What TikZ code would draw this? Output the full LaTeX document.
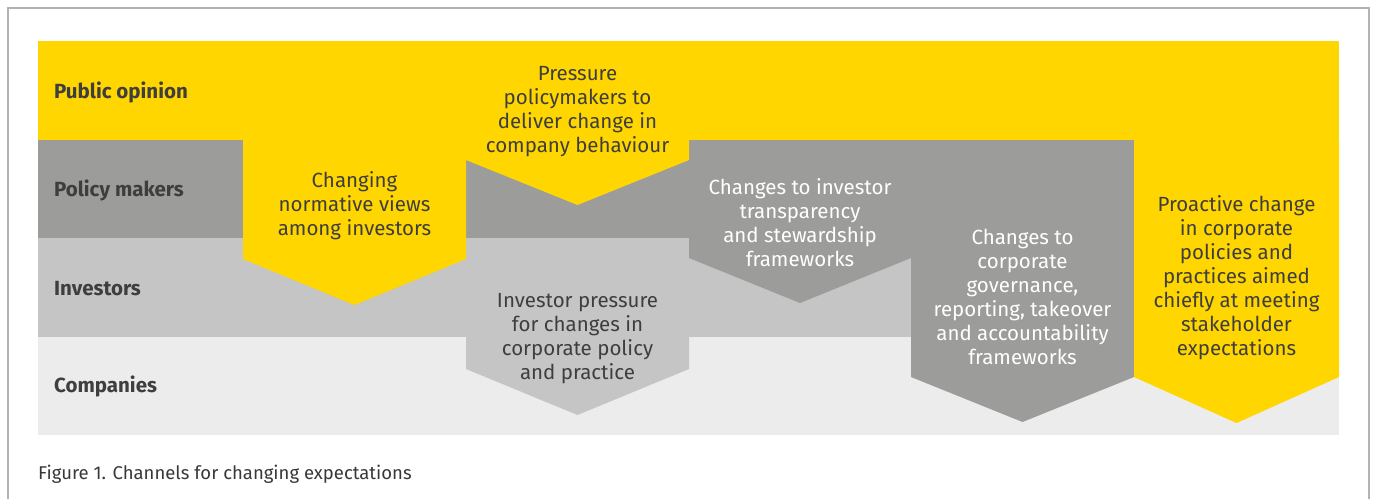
\documentclass[tikz,border=0pt]{standalone}
\usepackage{fontspec}
\setmainfont{Fira Sans}
\usetikzlibrary{positioning}
\definecolor{eyyellow}{RGB}{255,214,0}
\definecolor{policygray}{RGB}{156,156,155}
\definecolor{investgray}{RGB}{197,197,197}
\definecolor{companygray}{RGB}{236,236,236}
\definecolor{inkgray}{RGB}{62,62,62}
\definecolor{framegray}{RGB}{178,178,178}

\begin{document}
\begin{tikzpicture}[x=1pt, y=-1pt,
    rowlabel/.style={anchor=west, inner sep=0pt, text=inkgray,
                     font=\fontsize{20.5}{23}\selectfont\bfseries},
    chevtext/.style={align=center, inner sep=0pt, text=inkgray,
                     font=\fontsize{20.5}{24}\selectfont},
    chevwhite/.style={chevtext, text=white}]
\useasboundingbox (0,0) rectangle (1375,499);

% outer frame, open at the bottom
\draw[framegray, line width=1.5pt] (8,499) -- (8,8) -- (1369,8) -- (1369,499);

% the four horizontal bands
\fill[eyyellow]    (38,41)    rectangle (1339,139.5);
\fill[policygray]  (38,139.5) rectangle (1339,238);
\fill[investgray]  (38,238)   rectangle (1339,336.5);
\fill[companygray] (38,336.5) rectangle (1339,435);

% chevrons pushing down from one band into the next
\fill[eyyellow]   (243,139) -- (466,139) -- (466,259) -- (354.5,305) -- (243,259) -- cycle;
\fill[eyyellow]   (466,139) -- (689,139) -- (689,160) -- (577.5,205) -- (466,160) -- cycle;
\fill[investgray] (466,336) -- (689,336) -- (689,369) -- (577.5,415) -- (466,369) -- cycle;
\fill[policygray] (689,238) -- (911,238) -- (911,258) -- (800,303) -- (689,258) -- cycle;
\fill[policygray] (911,238) -- (1134,238) -- (1134,377) -- (1022.5,422) -- (911,377) -- cycle;
\fill[eyyellow]   (1134,139) -- (1339,139) -- (1339,377) -- (1236.5,423) -- (1134,377) -- cycle;

% row labels
\node[rowlabel] (public)    at (54,92)  {Public opinion};
\node[rowlabel] (policy)    at (54,190) {Policy makers};
\node[rowlabel] (investors) at (54,289) {Investors};
\node[rowlabel] (companies) at (54,386) {Companies};

% chevron texts
\node[chevtext] (normative) at (354.5,206) {Changing\\normative views\\among investors};
\node[chevtext] (pressure)  at (577.5,112) {Pressure\\policymakers to\\deliver change in\\company behaviour};
\node[chevtext] (invpress)  at (577.5,339) {Investor pressure\\for changes in\\corporate policy\\and practice};
\node[chevwhite] (steward)  at (800,223)  {Changes to investor\\transparency\\and stewardship\\frameworks};
\node[chevwhite] (govern)   at (1022.5,297) {Changes to\\corporate\\governance,\\reporting, takeover\\and accountability\\frameworks};
\node[chevtext] (proactive) at (1236.5,278) {Proactive change\\in corporate\\policies and\\practices aimed\\chiefly at meeting\\stakeholder\\expectations};

% caption
\node[anchor=west, inner sep=0pt, text=inkgray!90!black, font=\fontsize{18.5}{20}\selectfont]
  (caption) at (38,474) {Figure 1. Channels for changing expectations};
\end{tikzpicture}
\end{document}
